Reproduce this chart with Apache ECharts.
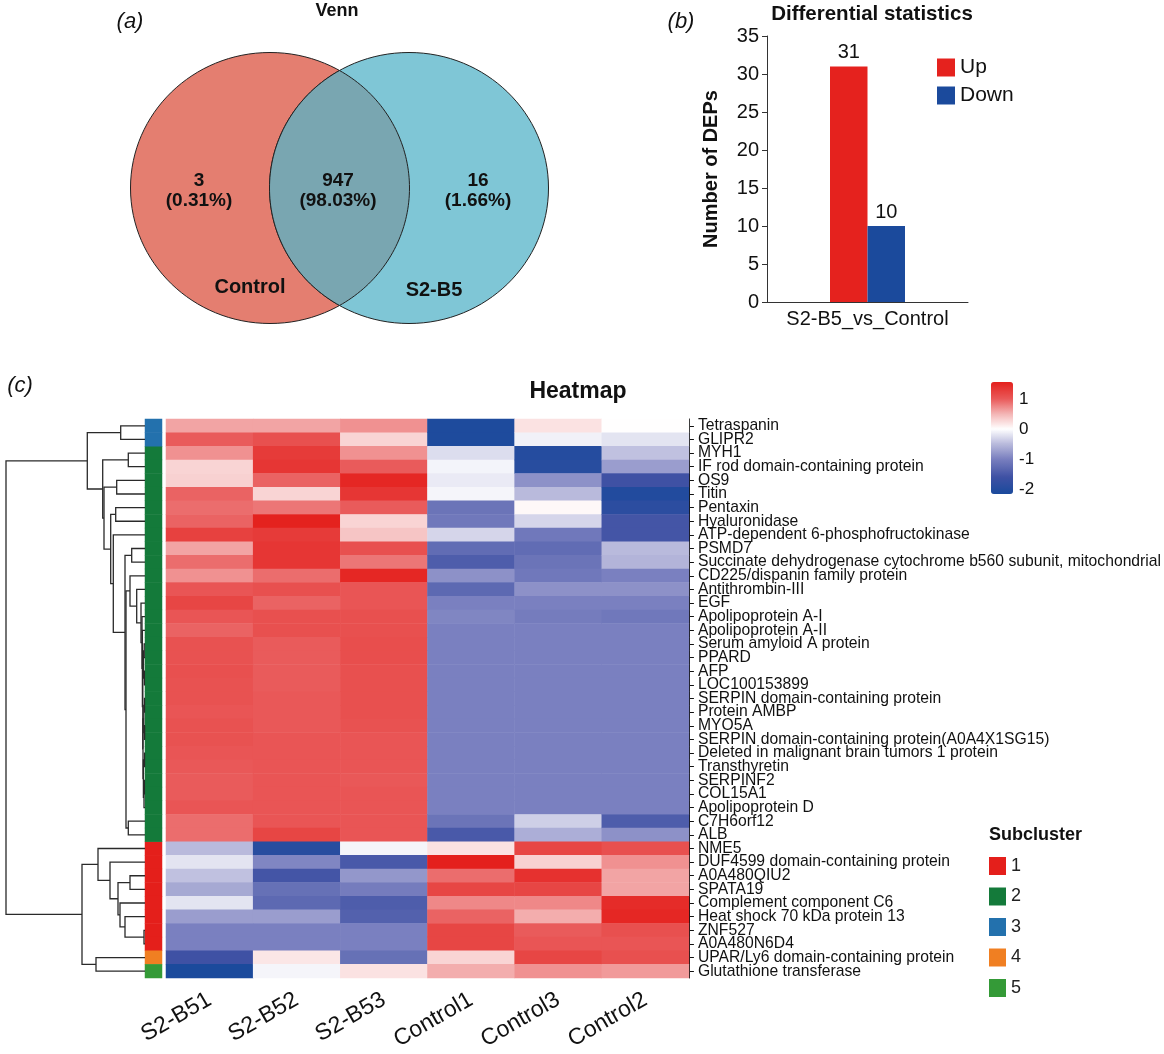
<!DOCTYPE html>
<html><head><meta charset="utf-8">
<script src="https://cdn.jsdelivr.net/npm/echarts@6/dist/echarts.min.js"></script>
<style>html,body{margin:0;padding:0;background:#fff}#c{width:1164px;height:1054px}</style>
</head><body><div id="c"></div>
<script>
// ---------------- DATA ----------------
const vennSets = ['Control', 'S2-B5'];
const vennCounts = [3, 947, 16];
const vennPercents = ['0.31%', '98.03%', '1.66%'];

const diffCategories = ['S2-B5_vs_Control'];
const upCounts = [31];
const downCounts = [10];
const diffTicks = [0, 35, 5];

const samples = ['S2-B51', 'S2-B52', 'S2-B53', 'Control1', 'Control3', 'Control2'];
const proteins = [
 'Tetraspanin','GLIPR2','MYH1','IF rod domain-containing protein','OS9','Titin','Pentaxin','Hyaluronidase',
 'ATP-dependent 6-phosphofructokinase','PSMD7','Succinate dehydrogenase cytochrome b560 subunit, mitochondrial',
 'CD225/dispanin family protein','Antithrombin-III','EGF','Apolipoprotein A-I','Apolipoprotein A-II',
 'Serum amyloid A protein','PPARD','AFP','LOC100153899','SERPIN domain-containing protein','Protein AMBP','MYO5A',
 'SERPIN domain-containing protein(A0A4X1SG15)','Deleted in malignant brain tumors 1 protein','Transthyretin',
 'SERPINF2','COL15A1','Apolipoprotein D','C7H6orf12','ALB','NME5','DUF4599 domain-containing protein',
 'A0A480QIU2','SPATA19','Complement component C6','Heat shock 70 kDa protein 13','ZNF527','A0A480N6D4',
 'UPAR/Ly6 domain-containing protein','Glutathione transferase'
];
const subcluster = [3,3, 2,2,2,2,2,2,2,2,2,2,2,2,2,2,2,2,2,2,2,2,2,2,2,2,2,2,2,2,2, 1,1,1,1,1,1,1,1, 4, 5];
const subclusterNames = ['1','2','3','4','5'];

const s2b51 = [0.6,1.0,0.7,0.3,0.32,0.95,0.9,0.95,1.25,0.6,0.9,0.7,1.05,1.2,1.05,0.95,1.08,1.08,1.1,1.08,1.08,1.05,1.08,1.08,1.05,1.02,1.0,1.0,1.05,0.9,0.9,-0.5,-0.2,-0.45,-0.65,-0.2,-0.75,-1.0,-1.0,-1.6,-2.15];
const s2b52 = [0.6,1.1,1.3,1.35,0.95,0.3,0.85,1.55,1.3,1.35,1.35,0.9,1.1,0.95,1.1,1.1,1.0,1.0,1.0,1.0,1.02,1.02,1.02,1.05,1.05,1.05,1.05,1.05,1.05,1.05,1.2,-1.95,-0.95,-1.55,-1.2,-1.3,-0.75,-1.0,-1.0,0.17,-0.07];
const s2b53 = [0.7,0.3,0.7,1.0,1.5,1.35,1.0,0.3,0.4,1.1,0.85,1.5,1.05,1.05,1.1,1.1,1.12,1.12,1.1,1.1,1.1,1.1,1.08,1.05,1.05,1.05,1.02,1.05,1.05,1.05,1.05,-0.07,-1.5,-0.8,-1.05,-1.45,-1.4,-1.0,-1.0,-1.2,0.2];
const control1 = [-2.1,-2.1,-0.25,-0.08,-0.15,-0.07,-1.15,-1.1,-0.3,-1.25,-1.45,-0.85,-1.3,-1.0,-0.95,-1.0,-1.0,-1.0,-1.0,-1.0,-1.0,-1.0,-1.0,-1.0,-1.0,-1.0,-1.0,-1.0,-1.0,-1.15,-1.5,0.2,1.57,0.9,1.2,0.75,0.95,1.2,1.2,0.3,0.55];
const control3 = [0.2,-0.1,-2.0,-1.95,-0.85,-0.5,0.05,-0.3,-1.1,-1.25,-1.15,-1.1,-0.85,-1.0,-1.05,-1.0,-1.0,-1.0,-1.0,-1.0,-1.0,-1.0,-1.0,-1.0,-1.0,-1.0,-1.0,-1.0,-1.0,-0.35,-0.6,1.2,0.32,1.4,1.2,0.75,0.55,1.0,1.05,1.2,0.7];
const control2 = [0.0,-0.2,-0.45,-0.75,-1.6,-2.05,-1.9,-1.55,-1.55,-0.5,-0.55,-1.0,-0.85,-1.0,-1.1,-1.0,-1.0,-1.0,-1.0,-1.0,-1.0,-1.0,-1.0,-1.0,-1.0,-1.0,-1.0,-1.0,-1.0,-1.45,-0.85,1.1,0.7,0.6,0.6,1.45,1.5,1.1,1.05,1.1,0.65];
const sampleValues = [s2b51, s2b52, s2b53, control1, control3, control2];

const colorbarTicks = [-2, -1, 0, 1];
const heatRange = [-2.17, 1.57];

// row dendrogram: [height, left, right]; leaves are row indexes
const rowTree = [139,
  [57.7, [24.3, 0, 1],
    [42.3, [16.7, 2, 3],
      [41, [28.3, 4, 5],
        [34.3, [29.3, 6, 7],
          [31.7, 8,
            [20, [13.3, 9, 10],
              [19,
                [15, 11, [8.3, 12, [4, 13, [3, 14, [2.6, 15,
                  [2.2, [1.5, [0.8, 16, 17], [0.6, 18, 19]],
                        [2, [1.2, [0.5, 20, 21], [0.4, 22, 23]], [1.6, [0.5, 24, 25], [1.0, [0.6, 26, 27], 28]]]]]]]]],
                [16.7, 29, 30]]]]]]]],
  [63, [47, 31, [35, 32, [27, [15, 33, 34], [25, 35, [20, 36, [1, 37, 38]]]]]], [49, 39, 40]]
];

// ---------------- BUILD ----------------
const FONT = '"Liberation Sans", Arial, sans-serif';
const clusterColors = {1:'#e41f1b', 2:'#147a3a', 3:'#2371ad', 4:'#f07f22', 5:'#349a37'};

const anchors = [[-2.17,'#1a4a9c'],[-1.6,'#3f51a4'],[-1.0,'#7a80bf'],[-0.5,'#b9badc'],[0,'#ffffff'],[0.5,'#f4b6b6'],[1.0,'#e95a5a'],[1.57,'#e4201c']];
function hex2rgb(h){return [1,3,5].map(i=>parseInt(h.substr(i,2),16));}
function colorAt(v){
  for(let i=0;i<anchors.length-1;i++){
    const [v0,c0]=anchors[i],[v1,c1]=anchors[i+1];
    if(v<=v1||i===anchors.length-2){
      const t=Math.max(0,Math.min(1,(v-v0)/(v1-v0)));
      const a=hex2rgb(c0),b=hex2rgb(c1);
      return 'rgb('+a.map((x,k)=>Math.round(x+(b[k]-x)*t)).join(',')+')';
    }
  }
}
const rampColors=[];
const NSTOP=188;
for(let i=0;i<NSTOP;i++){rampColors.push(colorAt(heatRange[0]+(heatRange[1]-heatRange[0])*i/(NSTOP-1)));}

const heatData=[];
sampleValues.forEach((arr,c)=>arr.forEach((v,r)=>heatData.push([c,r,v])));

const treeSegs=[];
function layoutTree(node){
  if(typeof node==='number') return {y:node+0.5,h:0};
  const a=layoutTree(node[1]), b=layoutTree(node[2]);
  treeSegs.push([node[0],a.y,b.y,a.h,b.h]);
  return {y:(a.y+b.y)/2,h:node[0]};
}
layoutTree(rowTree);

const clusterSeries = subclusterNames.map((nm,k)=>({
  type:'heatmap', name:nm, xAxisIndex:3, yAxisIndex:3,
  itemStyle:{color:clusterColors[k+1]},
  data: subcluster.map((s,r)=>s===k+1?[0,r,1]:null).filter(d=>d)
}));

// Venn geometry (layout)
const V={lx:270, rx:409, cy:188, ax:139.5, ay:135.5};
const dx=(V.rx-V.lx)/2;
const th=Math.acos(dx/V.ax);
const lensPts=[];
const NP=80;
for(let i=0;i<=NP;i++){const t=-th+2*th*i/NP; lensPts.push([V.lx+V.ax*Math.cos(t), V.cy+V.ay*Math.sin(t)]);}
for(let i=1;i<NP;i++){const t=Math.PI-th+2*th*i/NP; lensPts.push([V.rx+V.ax*Math.cos(t), V.cy+V.ay*Math.sin(t)]);}
const vTxt = {fontFamily:FONT, fontWeight:'bold', fontSize:19, fill:'#111', textAlign:'center', textVerticalAlign:'middle', lineHeight:20};

const chart=echarts.init(document.getElementById('c'),null,{renderer:'canvas'});
const option={
  animation:false,
  backgroundColor:'#fff',
  textStyle:{fontFamily:FONT},
  grid:[
    {left:166, top:419, width:523, height:559},
    {left:6, top:419, width:139, height:559},
    {left:767, top:36, width:201, height:266},
    {left:145, top:419, width:17, height:559},
    {left:991, top:382, width:22, height:112}
  ],
  xAxis:[
    {gridIndex:0, type:'category', data:samples, axisLine:{show:false}, axisTick:{show:false},
     axisLabel:{rotate:30, fontSize:23, color:'#111', margin:20, fontFamily:FONT, interval:0}},
    {gridIndex:1, type:'value', min:0, max:139, inverse:true, show:false},
    {gridIndex:2, type:'category', data:diffCategories,
     axisLine:{lineStyle:{color:'#333'}}, axisTick:{alignWithLabel:true, length:5, lineStyle:{color:'#333'}},
     axisLabel:{fontSize:20, color:'#111', margin:7, fontFamily:FONT}},
    {gridIndex:3, type:'category', data:['c'], show:false},
    {gridIndex:4, type:'value', show:false}
  ],
  yAxis:[
    {gridIndex:0, type:'category', data:proteins, inverse:true, position:'right',
     axisLine:{show:true, lineStyle:{color:'#111'}}, axisTick:{show:true, alignWithLabel:true, interval:0, length:5, lineStyle:{color:'#111'}},
     axisLabel:{fontSize:15.7, color:'#111', margin:9, fontFamily:FONT, interval:0}},
    {gridIndex:1, type:'value', min:0, max:41, inverse:true, show:false},
    {gridIndex:2, type:'value', min:diffTicks[0], max:diffTicks[1], interval:diffTicks[2],
     name:'Number of DEPs', nameLocation:'middle', nameGap:46, nameRotate:90,
     nameTextStyle:{fontSize:20, fontWeight:'bold', color:'#111', fontFamily:FONT},
     axisLine:{show:true, lineStyle:{color:'#333'}}, axisTick:{show:true, length:5, lineStyle:{color:'#333'}},
     axisLabel:{fontSize:20, color:'#111', margin:8, fontFamily:FONT}, splitLine:{show:false}},
    {gridIndex:3, type:'category', data:proteins, inverse:true, show:false},
    {gridIndex:4, type:'value', min:heatRange[0], max:heatRange[1], position:'right',
     axisLine:{show:false}, splitLine:{show:false},
     axisTick:{show:true, length:4, customValues:colorbarTicks, lineStyle:{color:'#666'}},
     axisLabel:{show:true, customValues:colorbarTicks, fontSize:17, color:'#111', margin:6, fontFamily:FONT}}
  ],
  visualMap:[{
    type:'continuous', seriesIndex:0, min:heatRange[0], max:heatRange[1],
    inRange:{color:rampColors}, calculable:false, orient:'vertical',
    left:991, top:382, itemWidth:22, itemHeight:112, padding:0, hoverLink:false
  }],
  legend:[
    {data:['Up','Down'], orient:'vertical', left:937, top:57, padding:0, itemWidth:18, itemHeight:18, itemGap:7,
     icon:'rect', textStyle:{fontSize:21, color:'#111', fontFamily:FONT}, selectedMode:false},
    {data:subclusterNames, orient:'vertical', left:989, top:857, padding:0, itemWidth:17, itemHeight:18, itemGap:12.5,
     icon:'rect', textStyle:{fontSize:18, color:'#222', fontFamily:FONT}, selectedMode:false}
  ],
  series:[
    {type:'heatmap', xAxisIndex:0, yAxisIndex:0, data:heatData, progressive:0},
    ...clusterSeries,
    {type:'custom', xAxisIndex:1, yAxisIndex:1, data:treeSegs, clip:false,
     encode:{x:[0,3,4], y:[1,2]},
     renderItem:function(params, api){
       const p1=api.coord([api.value(3), api.value(1)]);
       const p2=api.coord([api.value(0), api.value(1)]);
       const p3=api.coord([api.value(0), api.value(2)]);
       const p4=api.coord([api.value(4), api.value(2)]);
       return {type:'polyline', shape:{points:[p1,p2,p3,p4]}, style:{stroke:'#2a2a2a', lineWidth:1.3, fill:null}};
     }},
    {type:'bar', name:'Up', xAxisIndex:2, yAxisIndex:2, data:upCounts, barWidth:37.5, barGap:'0%',
     itemStyle:{color:'#e5221e'}, label:{show:true, position:'top', distance:4, fontSize:20, color:'#111', fontFamily:FONT}},
    {type:'bar', name:'Down', xAxisIndex:2, yAxisIndex:2, data:downCounts, barWidth:37.5, barGap:'0%',
     itemStyle:{color:'#1b4a9c'}, label:{show:true, position:'top', distance:4, fontSize:20, color:'#111', fontFamily:FONT}}
  ],
  graphic:[
    {type:'ellipse', shape:{cx:V.lx, cy:V.cy, rx:V.ax, ry:V.ay}, style:{fill:'#e47e70', stroke:'#222', lineWidth:1}, z:1},
    {type:'ellipse', shape:{cx:V.rx, cy:V.cy, rx:V.ax, ry:V.ay}, style:{fill:'#7fc6d6', stroke:'#222', lineWidth:1}, z:2},
    {type:'polygon', shape:{points:lensPts}, style:{fill:'#79a6b1', stroke:'#222', lineWidth:1}, z:3},
    {type:'text', x:199, y:191, z:10, style:Object.assign({text:vennCounts[0]+'\n('+vennPercents[0]+')'}, vTxt)},
    {type:'text', x:338, y:191, z:10, style:Object.assign({text:vennCounts[1]+'\n('+vennPercents[1]+')'}, vTxt)},
    {type:'text', x:478, y:191, z:10, style:Object.assign({text:vennCounts[2]+'\n('+vennPercents[2]+')'}, vTxt)},
    {type:'text', x:250, y:287, z:10, style:Object.assign({text:vennSets[0]}, vTxt, {fontSize:20})},
    {type:'text', x:434, y:290, z:10, style:Object.assign({text:vennSets[1]}, vTxt, {fontSize:20})},
    {type:'text', x:337, y:11, z:10, style:Object.assign({text:'Venn'}, vTxt, {fontSize:18})},
    {type:'text', x:130, y:22, z:10, style:{text:'(a)', fontFamily:FONT, fontStyle:'italic', fontSize:22, fill:'#111', textAlign:'center', textVerticalAlign:'middle'}},
    {type:'text', x:681, y:22, z:10, style:{text:'(b)', fontFamily:FONT, fontStyle:'italic', fontSize:22, fill:'#111', textAlign:'center', textVerticalAlign:'middle'}},
    {type:'text', x:20, y:386, z:10, style:{text:'(c)', fontFamily:FONT, fontStyle:'italic', fontSize:22, fill:'#111', textAlign:'center', textVerticalAlign:'middle'}},
    {type:'text', x:872, y:14, z:10, style:{text:'Differential statistics', fontFamily:FONT, fontWeight:'bold', fontSize:20.5, fill:'#111', textAlign:'center', textVerticalAlign:'middle'}},
    {type:'text', x:578, y:392, z:10, style:{text:'Heatmap', fontFamily:FONT, fontWeight:'bold', fontSize:23, fill:'#111', textAlign:'center', textVerticalAlign:'middle'}},
    {type:'text', x:989, y:835, z:10, style:{text:'Subcluster', fontFamily:FONT, fontWeight:'bold', fontSize:18, fill:'#111', textAlign:'left', textVerticalAlign:'middle'}}
  ]
};
chart.setOption(option);
</script></body></html>
